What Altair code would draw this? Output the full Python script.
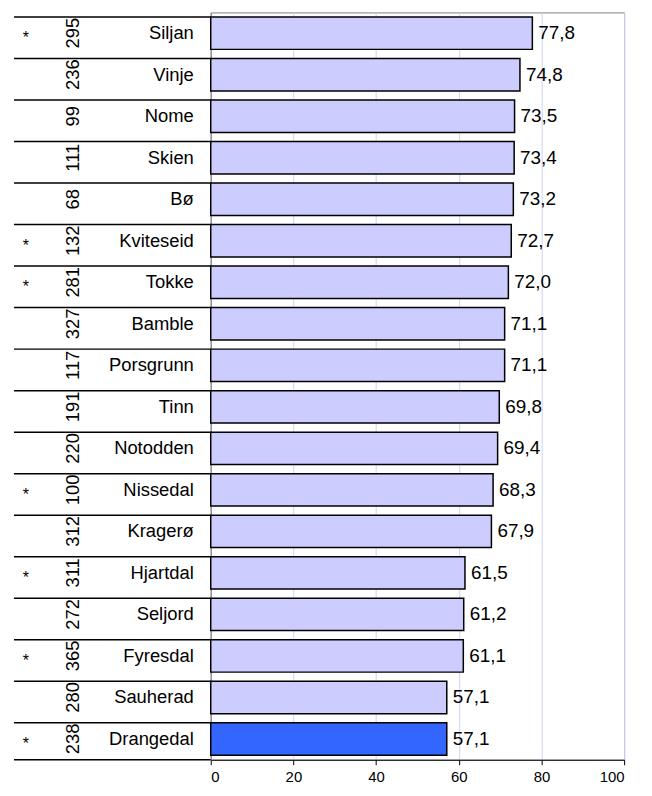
import altair as alt
import pandas as pd

names = ["Siljan", "Vinje", "Nome", "Skien", "Bø", "Kviteseid", "Tokke", "Bamble",
         "Porsgrunn", "Tinn", "Notodden", "Nissedal", "Kragerø", "Hjartdal", "Seljord",
         "Fyresdal", "Sauherad", "Drangedal"]
counts = [295, 236, 99, 111, 68, 132, 281, 327, 117, 191, 220, 100, 312, 311, 272, 365, 280, 238]
values = [77.8, 74.8, 73.5, 73.4, 73.2, 72.7, 72.0, 71.1, 71.1, 69.8, 69.4, 68.3, 67.9,
          61.5, 61.2, 61.1, 57.1, 57.1]
stars = ["Siljan", "Kviteseid", "Tokke", "Nissedal", "Hjartdal", "Fyresdal", "Drangedal"]
highlight = "Drangedal"
ticks = [0, 20, 40, 60, 80, 100]

df = pd.DataFrame({"name": names, "n": [str(c) for c in counts], "value": values})
df["label"] = [f"{v:.1f}".replace(".", ",") for v in values]
df["star"] = ["*" if nm in stars else "" for nm in names]

FONT = "Liberation Sans"
W, H = 416, 752

yenc = alt.Y("name:N", sort=names,
             scale=alt.Scale(paddingInner=0.22, paddingOuter=0.11),
             axis=alt.Axis(labels=False, ticks=False, title=None, domain=True,
                           domainColor="#808080", grid=False))
xscale = alt.Scale(domain=[0, 100], nice=False)

base = alt.Chart(df)

bars = base.mark_bar(stroke="black", strokeWidth=1.5).encode(
    x=alt.X("value:Q", scale=xscale,
            axis=alt.Axis(values=ticks, title=None, grid=True, gridColor="#D0D0F8",
                          gridWidth=1, domainColor="black", tickColor="black",
                          tickSize=5, labelPadding=5, labelFont=FONT, labelFontSize=15,
                          labelColor="black", labelBaseline="top")),
    y=yenc,
    color=alt.condition(alt.datum.name == highlight, alt.value("#3366FF"), alt.value("#CCCCFF")),
)

vals = base.mark_text(align="left", baseline="middle", dx=6, font=FONT, fontSize=19,
                      color="black").encode(
    x=alt.X("value:Q", scale=xscale), y=alt.Y("name:N", sort=names), text="label:N")

namestxt = base.mark_text(align="right", baseline="middle", font=FONT, fontSize=18.5,
                          color="black").encode(
    x=alt.value(-17), y=alt.Y("name:N", sort=names), text="name:N")

ntxt = base.mark_text(align="center", baseline="middle", angle=270, font=FONT, fontSize=18.5,
                      color="black").encode(
    x=alt.value(-139), y=alt.Y("name:N", sort=names), text="n:N")

startxt = base.mark_text(align="center", baseline="middle", dy=5, font=FONT, fontSize=16,
                         color="black").encode(
    x=alt.value(-186), y=alt.Y("name:N", sort=names), text="star:N")

seps = base.mark_rule(color="black", strokeWidth=1.5).encode(
    x=alt.value(-198), x2=alt.value(0),
    y=alt.Y("name:N", sort=names, bandPosition=0))

bottom = alt.Chart(alt.Data(values=[{"a": 1}])).mark_rule(color="black", strokeWidth=1.5).encode(
    x=alt.value(-198), x2=alt.value(0), y=alt.value(H))

chart = alt.layer(bars, vals, namestxt, ntxt, startxt, seps, bottom).properties(
    width=W, height=H,
    autosize=alt.AutoSizeParams(type="none"),
    padding={"left": 204, "top": 2, "right": 20, "bottom": 26},
).configure_view(stroke="#808080", strokeWidth=1)

chart.save("out.html", embed_options={"renderer": "svg", "actions": False})
